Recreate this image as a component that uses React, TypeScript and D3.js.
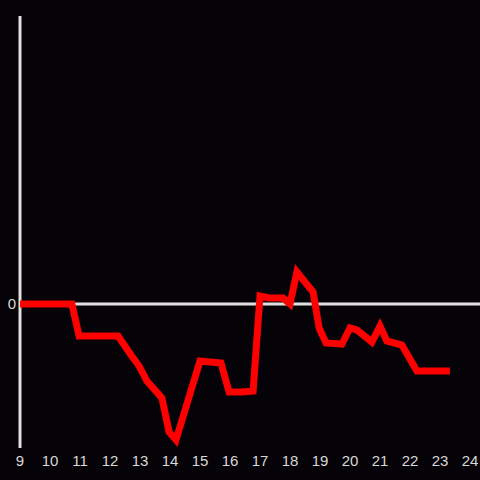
import React from "react";
import * as d3 from "d3";

const times = [9.0, 10.73, 10.97, 12.27, 12.7, 12.97, 13.23, 13.73, 13.97, 14.2, 15.0, 15.33, 15.7, 15.97, 16.4, 16.77, 17.0, 17.3, 17.77, 18.0, 18.23, 18.77, 18.97, 19.2, 19.73, 20.0, 20.23, 20.73, 21.0, 21.23, 21.73, 22.23, 23.33];
const values = [0, 0, -32, -32, -51, -62, -77, -94, -128, -136, -57, -58, -59, -88, -88, -87, 8, 6, 6, 0, 32, 12, -24, -39, -40, -24, -26, -38, -22, -37, -41, -67, -67];
const xTicks = [9, 10, 11, 12, 13, 14, 15, 16, 17, 18, 19, 20, 21, 22, 23, 24];
const yTicks = [0];

export default function App() {
  const W = 480, H = 480;
  const x = d3.scaleLinear().domain([9, 24]).range([20, 470]);
  const y = d3.scaleLinear().domain([-144, 288]).range([448, 16]);
  const data = times.map((t, i) => [t, values[i]] as [number, number]);
  const line = d3.line<[number, number]>().x(d => x(d[0])).y(d => y(d[1]));
  const font = "'Liberation Sans', Arial, sans-serif";
  return (
    <svg width={W} height={H} style={{ position: "absolute", left: 0, top: 0, background: "#050307" }}>
      <rect x={0} y={0} width={W} height={H} fill="#050307" />
      <line x1={x(9)} x2={W} y1={y(0)} y2={y(0)} stroke="#e0e0e0" strokeWidth={3} />
      <line x1={x(9)} x2={x(9)} y1={16} y2={448} stroke="#e0e0e0" strokeWidth={3} />
      {yTicks.map(t => (
        <text key={t} x={16} y={y(t)} dy="0.36em" textAnchor="end" fill="#d8d8d8" fontSize={15} fontFamily={font}>{t}</text>
      ))}
      {xTicks.map(t => (
        <text key={t} x={x(t)} y={466} textAnchor="middle" fill="#d8d8d8" fontSize={15} fontFamily={font}>{t}</text>
      ))}
      <path d={line(data) || ""} fill="none" stroke="#ff0000" strokeWidth={7} strokeLinejoin="miter" />
    </svg>
  );
}
